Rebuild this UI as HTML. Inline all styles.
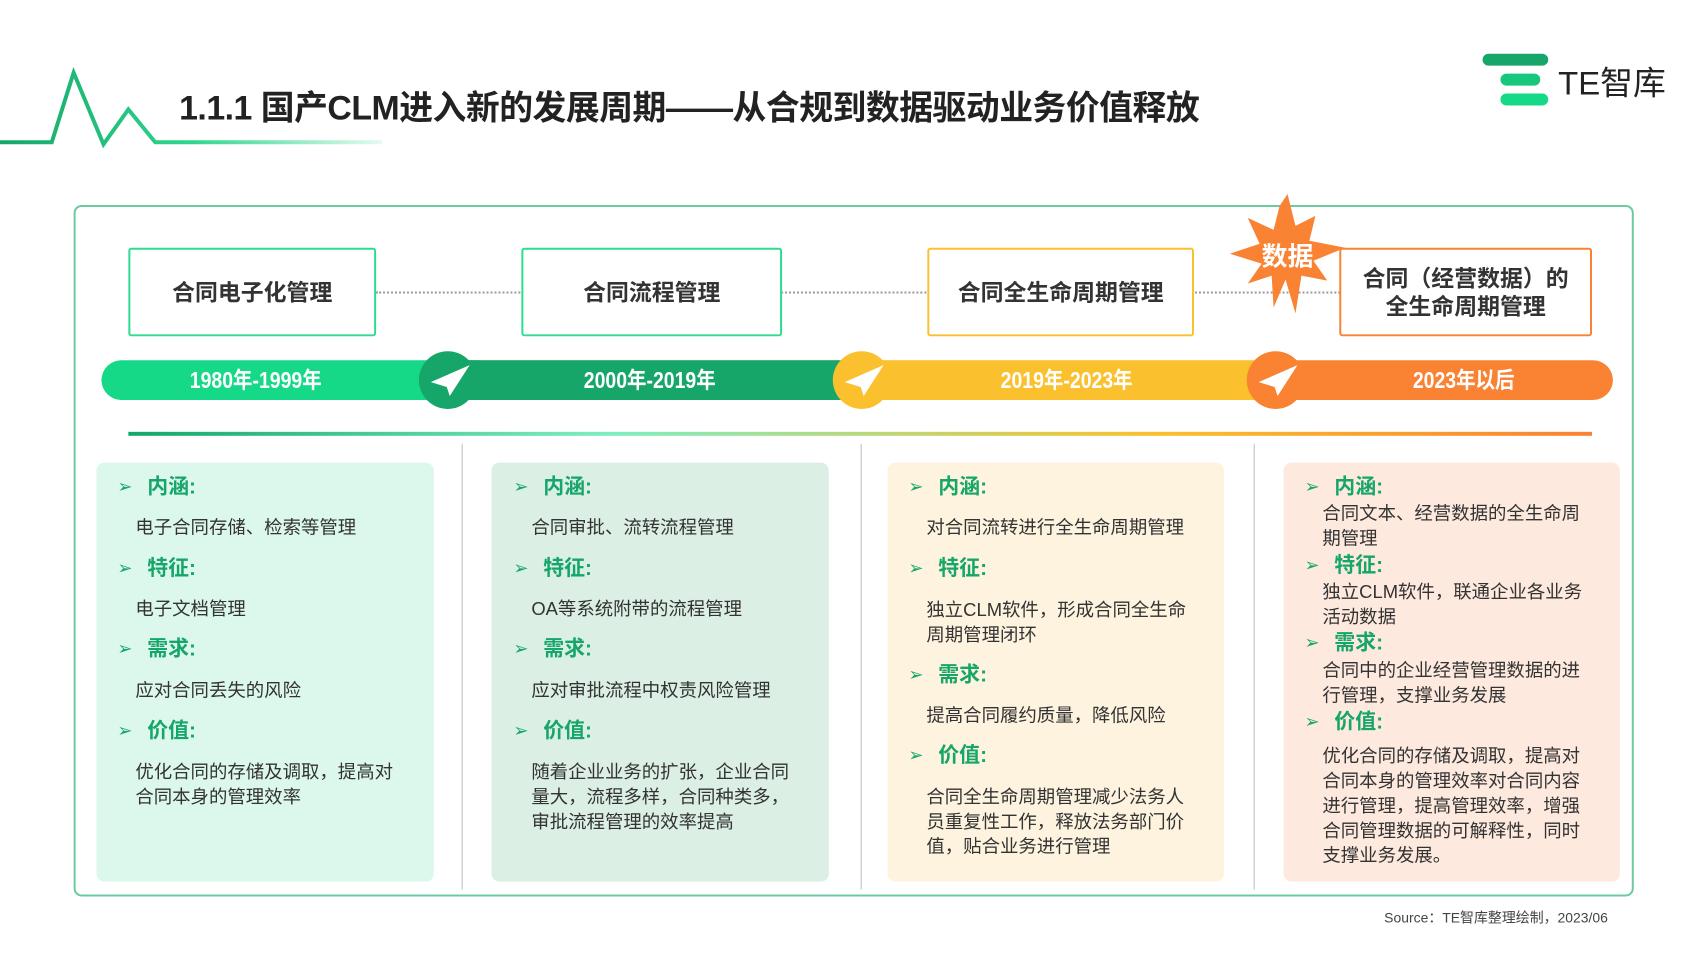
<!DOCTYPE html>
<html><head><meta charset="utf-8"><style>
*{margin:0;padding:0;box-sizing:border-box}
body{width:1706px;height:960px;background:#fff;position:relative;overflow:hidden;font-family:"Liberation Sans","Noto Sans CJK SC",sans-serif;color:#333}
#w{position:absolute;left:0;top:0;width:1706px;height:960px;transform:scale(0.995);transform-origin:0 0}
.a{position:absolute}
.tb{position:absolute;top:249px;height:89px;background:#fff;border:2px solid;border-radius:3px;display:flex;align-items:center;justify-content:center;text-align:center;font-weight:bold;font-size:23px;line-height:28px;color:#333}
.yr{position:absolute;top:362px;height:40px;line-height:40px;color:#fff;font-weight:bold;font-size:23px;text-align:center;transform:scaleX(.85)}
.bx{position:absolute;top:465px;height:421px;border-radius:8px}
.h{position:absolute;font-size:21px;font-weight:bold;color:#16a66a;line-height:25px}
.h::before{content:"➢";position:absolute;left:-30px;font-weight:normal;font-size:18px}
.t{position:absolute;font-size:18.5px;line-height:25px;color:#333;white-space:nowrap}
.sep{position:absolute;top:446px;width:1px;height:448px;background:#bbb}
.circ{position:absolute;top:353px;width:58px;height:58px;border-radius:50%}
</style></head><body><div id="w">
<svg class="a" style="left:0;top:60px" width="400" height="100">
<defs><linearGradient id="hg" x1="0" x2="1"><stop offset="0" stop-color="#16a66a"/><stop offset=".5" stop-color="#2ed68d"/><stop offset="1" stop-color="#e6faf0"/></linearGradient></defs>
<polyline points="0,83 52,83 74,13 104,85 129,50 156,83 384,83" fill="none" stroke="url(#hg)" stroke-width="4"/>
</svg>
<div class="a" style="left:180px;top:81px;font-size:34px;font-weight:bold;color:#222;white-space:nowrap;letter-spacing:-0.5px">1.1.1 国产CLM进入新的发展周期——从合规到数据驱动业务价值释放</div>
<div class="a" style="left:1490px;top:54px;width:66px;height:12px;border-radius:6px;background:#16a66a"></div>
<div class="a" style="left:1508px;top:74px;width:40px;height:12px;border-radius:6px;background:#17c77b"></div>
<div class="a" style="left:1508px;top:94px;width:48px;height:12px;border-radius:6px;background:#15d987"></div>
<div class="a" style="left:1566px;top:64px;font-size:33px;color:#222;line-height:40px">TE智库</div>

<div class="a" style="left:74px;top:206px;width:1568px;height:695px;border:2px solid #6cc9a0;border-radius:8px"></div>

<div class="a" style="left:378px;top:293px;width:1000px;border-top:2px dotted #999"></div>
<div class="tb" style="left:129px;width:249px;border-color:#2edc8f">合同电子化管理</div>
<div class="tb" style="left:524px;width:262px;border-color:#2edc8f">合同流程管理</div>
<div class="tb" style="left:932px;width:268px;border-color:#fbc02d">合同全生命周期管理</div>
<div class="tb" style="left:1346px;width:254px;border-color:#f98233">合同（经营数据）的<br>全生命周期管理</div>
<svg class="a" style="left:1224px;top:192px" width="140" height="130" viewBox="-70 -65 140 130">
<polygon points="0,-62 8,-30 28,-40 22,-15 58,-8 26,5 40,25 14,20 8,58 -2,24 -14,52 -16,20 -40,28 -26,8 -58,-2 -28,-12 -40,-38 -14,-26 -8,-50" fill="#f98233"/>
<text x="0" y="10" text-anchor="middle" font-size="26" font-weight="bold" fill="#fff" font-family="Liberation Sans,Noto Sans CJK SC,sans-serif">数据</text>
</svg>

<div class="a" style="left:102px;top:362px;width:380px;height:40px;border-radius:20px 0 0 20px;background:#15d987"></div>
<div class="a" style="left:450px;top:362px;width:420px;height:40px;background:#16a66a"></div>
<div class="a" style="left:866px;top:362px;width:420px;height:40px;background:#fbc02d"></div>
<div class="a" style="left:1282px;top:362px;width:339px;height:40px;border-radius:0 20px 20px 0;background:#f98233"></div>
<div class="circ" style="left:421px;background:#16a66a"></div>
<div class="circ" style="left:837px;background:#fbc02d"></div>
<div class="circ" style="left:1253px;background:#f98233"></div>
<svg class="a" style="left:0;top:0" width="1706" height="960">
<g fill="#fff"><polygon points="433,384 472,367 452,398 449,389"/><polygon points="849,384 888,367 868,398 865,389"/><polygon points="1265,384 1304,367 1284,398 1281,389"/></g>
</svg>
<div class="yr" style="left:157px;width:200px">1980年-1999年</div>
<div class="yr" style="left:553px;width:200px">2000年-2019年</div>
<div class="yr" style="left:972px;width:200px">2019年-2023年</div>
<div class="yr" style="left:1371px;width:200px">2023年以后</div>

<div class="a" style="left:129px;top:434px;width:1471px;height:4px;background:linear-gradient(90deg,#16a66a,#7eeec0 33%,#fbc02d 70%,#f98233)"></div>
<div class="sep" style="left:464px"></div><div class="sep" style="left:865px"></div><div class="sep" style="left:1260px"></div>

<div class="bx" style="left:97px;width:339px;background:#dcf8ec"></div>
<div class="bx" style="left:494px;width:339px;background:#dbefe4"></div>
<div class="bx" style="left:892px;width:338px;background:#fdf3de"></div>
<div class="bx" style="left:1290px;width:338px;background:#fde9de"></div>

<div class="h" style="left:148px;top:477px">内涵:</div>
<div class="t" style="left:136px;top:517px">电子合同存储、检索等管理</div>
<div class="h" style="left:148px;top:559px">特征:</div>
<div class="t" style="left:136px;top:599px">电子文档管理</div>
<div class="h" style="left:148px;top:640px">需求:</div>
<div class="t" style="left:136px;top:681px">应对合同丢失的风险</div>
<div class="h" style="left:148px;top:722px">价值:</div>
<div class="t" style="left:136px;top:763px">优化合同的存储及调取，提高对<br>合同本身的管理效率</div>

<div class="h" style="left:546px;top:477px">内涵:</div>
<div class="t" style="left:534px;top:517px">合同审批、流转流程管理</div>
<div class="h" style="left:546px;top:559px">特征:</div>
<div class="t" style="left:534px;top:599px">OA等系统附带的流程管理</div>
<div class="h" style="left:546px;top:640px">需求:</div>
<div class="t" style="left:534px;top:681px">应对审批流程中权责风险管理</div>
<div class="h" style="left:546px;top:722px">价值:</div>
<div class="t" style="left:534px;top:763px">随着企业业务的扩张，企业合同<br>量大，流程多样，合同种类多，<br>审批流程管理的效率提高</div>

<div class="h" style="left:943px;top:477px">内涵:</div>
<div class="t" style="left:931px;top:517px">对合同流转进行全生命周期管理</div>
<div class="h" style="left:943px;top:559px">特征:</div>
<div class="t" style="left:931px;top:600px">独立CLM软件，形成合同全生命<br>周期管理闭环</div>
<div class="h" style="left:943px;top:666px">需求:</div>
<div class="t" style="left:931px;top:706px">提高合同履约质量，降低风险</div>
<div class="h" style="left:943px;top:747px">价值:</div>
<div class="t" style="left:931px;top:788px">合同全生命周期管理减少法务人<br>员重复性工作，释放法务部门价<br>值，贴合业务进行管理</div>

<div class="h" style="left:1341px;top:477px">内涵:</div>
<div class="t" style="left:1329px;top:503px">合同文本、经营数据的全生命周<br>期管理</div>
<div class="h" style="left:1341px;top:556px">特征:</div>
<div class="t" style="left:1329px;top:582px">独立CLM软件，联通企业各业务<br>活动数据</div>
<div class="h" style="left:1341px;top:634px">需求:</div>
<div class="t" style="left:1329px;top:661px">合同中的企业经营管理数据的进<br>行管理，支撑业务发展</div>
<div class="h" style="left:1341px;top:713px">价值:</div>
<div class="t" style="left:1329px;top:747px">优化合同的存储及调取，提高对<br>合同本身的管理效率对合同内容<br>进行管理，提高管理效率，增强<br>合同管理数据的可解释性，同时<br>支撑业务发展。</div>

<div class="a" style="right:90px;top:912px;font-size:14px;color:#444">Source：TE智库整理绘制，2023/06</div>
</div></body></html>
